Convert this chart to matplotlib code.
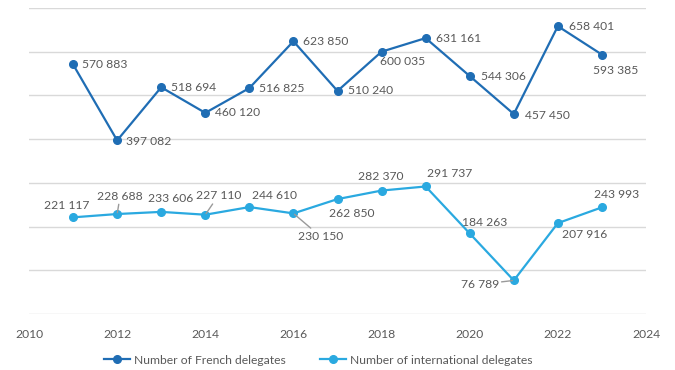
import matplotlib

matplotlib.use("Agg")
import matplotlib.pyplot as plt

plt.rcParams["font.family"] = ["Lato", "DejaVu Sans"]

_TEXT = "#595959"
_GRID = "#d9d9d9"
_FRENCH = "#1f6db4"
_INTL = "#2aa9e0"

years = [2011, 2012, 2013, 2014, 2015, 2016, 2017, 2018, 2019, 2020, 2021, 2022, 2023]
french = [570883, 397082, 518694, 460120, 516825, 623850, 510240,
          600035, 631161, 544306, 457450, 658401, 593385]
international = [221117, 228688, 233606, 227110, 244610, 230150, 262850,
                 282370, 291737, 184263, 76789, 207916, 243993]
x_ticks = [2010, 2012, 2014, 2016, 2018, 2020, 2022, 2024]

# label placement: (dx, dy) in pixels, horizontal alignment, leader line
french_offsets = [(9, 0, "left"), (9, -1, "left"), (10, 0, "left"), (10, 0, "left"),
                  (10, 0, "left"), (10, 0, "left"), (10, 0, "left"), (-2, -10, "left"),
                  (10, 0, "left"), (11, 0, "left"), (11, -1, "left"), (11, 0, "left"),
                  (14, -16, "center")]
intl_offsets = [(-6, 12, "center", False), (3, 18, "center", True), (9, 13, "center", False),
                (13, 19, "center", True), (25, 12, "center", False), (27, -23, "center", True),
                (14, -14, "center", False), (-1, 14, "center", False), (24, 13, "center", False),
                (15, 11, "center", False), (-15, -4, "right", True), (27, -11, "center", False),
                (15, 13, "center", False)]


def fmt(v):
    return f"{v:,}".replace(",", " ")


fig = plt.figure(figsize=(6.75, 3.7), dpi=100)
ax = fig.add_axes([29 / 675, 56 / 370, 617 / 675, 306 / 370])

ax.plot(years, french, color=_FRENCH, lw=1.6, marker="o", ms=5.5,
        label="Number of French delegates", zorder=3)
ax.plot(years, international, color=_INTL, lw=1.6, marker="o", ms=5.5,
        label="Number of international delegates", zorder=3)

for x, y, (dx, dy, ha) in zip(years, french, french_offsets):
    ax.annotate(fmt(y), (x, y), xytext=(dx, dy), textcoords="offset pixels",
                ha=ha, va="center", fontsize=8.7, color=_TEXT)

for x, y, (dx, dy, ha, leader) in zip(years, international, intl_offsets):
    arrow = dict(arrowstyle="-", color="#9a9a9a", lw=1.0, shrinkA=0, shrinkB=1) if leader else None
    ax.annotate(fmt(y), (x, y), xytext=(dx, dy), textcoords="offset pixels",
                ha=ha, va="center", fontsize=8.7, color=_TEXT, arrowprops=arrow,
                zorder=4)

ax.set_xlim(2010, 2024)
ax.set_ylim(0, 700000)
ax.set_xticks(x_ticks)
ax.set_yticks(range(0, 700001, 100000))
ax.set_yticklabels([])
ax.grid(axis="y", color=_GRID, lw=1)
ax.tick_params(axis="both", length=0, colors=_TEXT, labelsize=8.7)
ax.tick_params(axis="x", pad=11)
for spine in ax.spines.values():
    spine.set_visible(False)

fig.legend(loc="center", bbox_to_anchor=(318 / 675, 1 - 360 / 370), ncol=2,
           frameon=False, fontsize=8.7, labelcolor=_TEXT, handlelength=2.2,
           handletextpad=0.3, columnspacing=2.8)

fig.savefig("out.png", dpi=100, facecolor="white")
